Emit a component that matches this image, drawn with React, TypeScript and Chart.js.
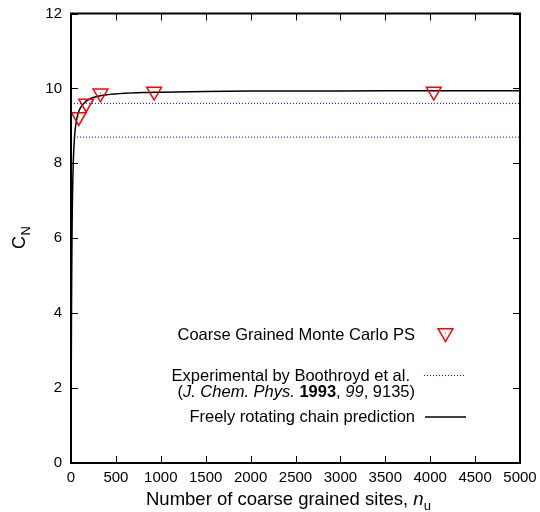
import React, { useEffect, useRef } from 'react';
import { Chart, registerables } from 'chart.js';

Chart.register(...registerables);

// Coarse grained Monte Carlo PS results
const mcSites = [86, 169, 329, 926, 4040];
const mcCN = [9.24, 9.6, 9.87, 9.915, 9.915];

// Experimental values (Boothroyd et al.)
const expValues = [9.6, 8.7];
const expRange = [0, 5000];

// Freely rotating chain prediction
const curveSites = [1, 2, 3, 5, 8, 12, 15, 20, 25, 30, 40, 50, 60, 75, 100, 150, 200, 300, 400, 600, 800, 1000, 1500, 2000, 3000, 4000, 5000];
const curveCN = [1.0, 1.82, 2.54, 3.73, 5.04, 6.23, 6.84, 7.54, 8.0, 8.32, 8.73, 8.97, 9.13, 9.3, 9.46, 9.62, 9.71, 9.79, 9.83, 9.87, 9.89, 9.9, 9.92, 9.93, 9.93, 9.94, 9.94];

const xTicks = [0, 500, 1000, 1500, 2000, 2500, 3000, 3500, 4000, 4500, 5000];
const yTicks = [0, 2, 4, 6, 8, 10, 12];

const FONT = '"Liberation Sans", Arial, Helvetica, sans-serif';

const framePlugin = {
  id: 'frameTicks',
  afterDatasetsDraw(chart: any) {
    const { ctx, chartArea: a, scales } = chart;
    const xs = scales.x;
    const ys = scales.y;
    ctx.save();
    ctx.strokeStyle = '#000';
    ctx.lineWidth = 1;
    ctx.beginPath();
    for (const v of xTicks) {
      const px = Math.round(xs.getPixelForValue(v)) + 0.5;
      ctx.moveTo(px, a.bottom);
      ctx.lineTo(px, a.bottom - 7);
      ctx.moveTo(px, a.top);
      ctx.lineTo(px, a.top + 7);
    }
    for (const v of yTicks) {
      const py = Math.round(ys.getPixelForValue(v)) + 0.5;
      ctx.moveTo(a.left, py);
      ctx.lineTo(a.left + 7, py);
      ctx.moveTo(a.right, py);
      ctx.lineTo(a.right - 7, py);
    }
    ctx.stroke();
    ctx.lineWidth = 2;
    ctx.strokeRect(a.left, a.top, a.right - a.left, a.bottom - a.top);
    ctx.restore();
  },
};

const textPlugin = {
  id: 'textDeco',
  afterDraw(chart: any) {
    const { ctx } = chart;
    ctx.save();
    ctx.fillStyle = '#000';
    ctx.textBaseline = 'alphabetic';
    ctx.textAlign = 'left';

    // Y axis title C_N (rotated)
    ctx.save();
    ctx.translate(25, 249);
    ctx.rotate(-Math.PI / 2);
    ctx.font = `18px ${FONT}`;
    ctx.fillText('C', 0, 0);
    const cw = ctx.measureText('C').width;
    ctx.font = `13px ${FONT}`;
    ctx.fillText('N', cw + 0.5, 5);
    ctx.restore();

    // X axis title
    const TF = 18.5;
    const main = 'Number of coarse grained sites, ';
    let x = 146;
    const by = 505;
    ctx.font = `${TF}px ${FONT}`;
    ctx.fillText(main, x, by);
    x += ctx.measureText(main).width;
    ctx.font = `italic ${TF}px ${FONT}`;
    ctx.fillText('n', x, by);
    x += ctx.measureText('n').width;
    ctx.font = `13px ${FONT}`;
    ctx.fillText('u', x, by + 5);

    // Legend
    const LF = 16.5;
    ctx.font = `${LF}px ${FONT}`;
    ctx.textAlign = 'right';
    ctx.fillText('Coarse Grained Monte Carlo PS', 415, 339.5);
    ctx.fillText('Experimental by Boothroyd et al.', 410, 380.5);
    ctx.fillText('Freely rotating chain prediction', 415, 422);

    // Mixed-style reference line
    const segs: [string, string][] = [
      ['(', `${LF}px ${FONT}`],
      ['J. Chem. Phys.', `italic ${LF}px ${FONT}`],
      [' ', `${LF}px ${FONT}`],
      ['1993', `bold ${LF}px ${FONT}`],
      [', ', `${LF}px ${FONT}`],
      ['99', `italic ${LF}px ${FONT}`],
      [', 9135)', `${LF}px ${FONT}`],
    ];
    let total = 0;
    for (const [t, f] of segs) {
      ctx.font = f;
      total += ctx.measureText(t).width;
    }
    ctx.textAlign = 'left';
    let sx = 415 - total;
    for (const [t, f] of segs) {
      ctx.font = f;
      ctx.fillText(t, sx, 397);
      sx += ctx.measureText(t).width;
    }

    // Legend samples
    const tx = 445.5, ty = 333, r = 8.5;
    ctx.strokeStyle = '#ff0000';
    ctx.lineWidth = 1.5;
    ctx.beginPath();
    ctx.moveTo(tx, ty + r);
    ctx.lineTo(tx - r * 0.866, ty - r / 2);
    ctx.lineTo(tx + r * 0.866, ty - r / 2);
    ctx.closePath();
    ctx.stroke();
    ctx.fillStyle = '#ff0000';
    ctx.fillRect(tx - 0.5, ty - 0.5, 1, 1);

    ctx.strokeStyle = '#0000ff';
    ctx.lineWidth = 1;
    ctx.setLineDash([1, 2]);
    ctx.beginPath();
    ctx.moveTo(424, 375.5);
    ctx.lineTo(466, 375.5);
    ctx.stroke();
    ctx.setLineDash([]);

    ctx.strokeStyle = '#000';
    ctx.lineWidth = 1.5;
    ctx.beginPath();
    ctx.moveTo(425, 417);
    ctx.lineTo(466, 417);
    ctx.stroke();

    ctx.restore();
  },
};

export default function App() {
  const ref = useRef<HTMLCanvasElement>(null);

  useEffect(() => {
    if (!ref.current) return;
    const mcPoints = mcSites.map((n, i) => ({ x: n, y: mcCN[i] }));
    const curvePoints = curveSites.map((n, i) => ({ x: n, y: curveCN[i] }));
    const expSets = expValues.map((v) => ({
      type: 'line' as const,
      data: expRange.map((x) => ({ x, y: v })),
      borderColor: '#0000ff',
      borderWidth: 1,
      borderDash: [1, 2],
      pointRadius: 0,
      fill: false,
    }));

    const chart = new Chart(ref.current, {
      type: 'line',
      data: {
        datasets: [
          {
            data: mcPoints,
            showLine: false,
            pointStyle: 'triangle',
            rotation: 180,
            pointRadius: 8.5,
            pointBorderColor: '#ff0000',
            pointBackgroundColor: 'rgba(0,0,0,0)',
            pointBorderWidth: 1.5,
            borderColor: '#ff0000',
          } as any,
          {
            data: mcPoints,
            showLine: false,
            pointStyle: 'rect',
            pointRadius: 0.7,
            pointBorderWidth: 0,
            pointBackgroundColor: '#ff0000',
          } as any,
          {
            data: curvePoints,
            borderColor: '#000',
            borderWidth: 1.5,
            pointRadius: 0,
            cubicInterpolationMode: 'monotone',
            fill: false,
          } as any,
          ...expSets,
        ],
      },
      options: {
        responsive: false,
        animation: false,
        devicePixelRatio: 1,
        layout: { padding: { top: 13.5, right: 20, left: 0, bottom: 0 } },
        plugins: {
          legend: { display: false },
          tooltip: { enabled: false },
        },
        scales: {
          x: {
            type: 'linear',
            min: 0,
            max: 5000,
            afterFit: (s: any) => {
              s.height = 49;
              s.paddingLeft = 0;
              s.paddingRight = 0;
              s.paddingTop = 0;
              s.paddingBottom = 0;
            },
            afterBuildTicks: (s: any) => {
              s.ticks = xTicks.map((v) => ({ value: v }));
            },
            ticks: {
              color: '#000',
              font: { family: FONT, size: 15 },
              padding: 6,
              maxRotation: 0,
              autoSkip: false,
              callback: (v: any) => String(v),
            },
            grid: { display: false, drawTicks: false },
            border: { display: false },
          },
          y: {
            type: 'linear',
            min: 0,
            max: 12,
            afterFit: (s: any) => {
              s.width = 71;
              s.paddingLeft = 0;
              s.paddingRight = 0;
              s.paddingTop = 0;
              s.paddingBottom = 0;
            },
            afterBuildTicks: (s: any) => {
              s.ticks = yTicks.map((v) => ({ value: v }));
            },
            ticks: {
              color: '#000',
              font: { family: FONT, size: 15 },
              padding: 9,
              autoSkip: false,
              callback: (v: any) => String(v),
            },
            grid: { display: false, drawTicks: false },
            border: { display: false },
          },
        },
      },
      plugins: [framePlugin, textPlugin],
    });
    return () => chart.destroy();
  }, []);

  return (
    <canvas
      ref={ref}
      width={540}
      height={512}
      style={{ position: 'fixed', left: 0, top: 0, background: '#fff' }}
    />
  );
}
